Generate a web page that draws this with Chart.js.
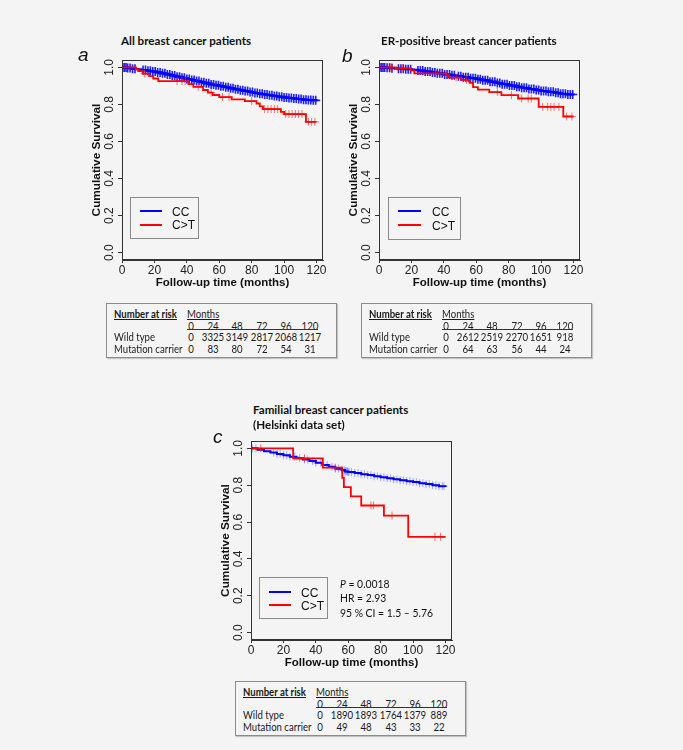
<!DOCTYPE html>
<html>
<head>
<meta charset="utf-8">
<script src="https://cdn.jsdelivr.net/npm/chart.js@4.4.1/dist/chart.umd.min.js"></script>
<style>
  body { margin: 0; background: #f4f4f4; width: 683px; height: 750px; position: relative; overflow: hidden; font-family: Lato, "Liberation Sans", sans-serif; color: #111; }
  canvas { position: absolute; }
  .t { position: absolute; white-space: nowrap; }
  .title { font-weight: bold; font-size: 11.6px; line-height: 14px; }
  .letter { font-family: "Liberation Sans", Arial, sans-serif; font-style: italic; font-size: 19px; line-height: 19px; }
  .lg { position: absolute; border: 1px solid #8a8a8a; box-sizing: border-box; }
  .lgtxt { font-family: "Liberation Sans", Arial, sans-serif; font-size: 12px; line-height: 14px; }
  .stat { font-size: 11.5px; line-height: 14px; transform: scaleX(0.9); transform-origin: left center; }
  .risk { position: absolute; border: 1px solid #8c8c8c; box-shadow: 1px 1px 1px #c4c4c4; box-sizing: border-box; font-size: 11.4px; color: #1a1a1a; }
  .risk .t { line-height: 13px; }
  .risk .l { transform: scaleX(0.84); transform-origin: left center; }
  .risk .c { transform: translateX(-50%) scaleX(0.85); }
</style>
</head>
<body>

<canvas id="chartA" width="275" height="245" style="left:60px;top:50px"></canvas>
<canvas id="chartB" width="275" height="245" style="left:317px;top:50px"></canvas>
<canvas id="chartC" width="275" height="244" style="left:189px;top:431px"></canvas>

<script>
// axis ticks
const X_TICKS = [0, 20, 40, 60, 80, 100, 120];
const Y_TICKS = [0, 0.2, 0.4, 0.6, 0.8, 1.0];

// ---- panel a : all breast cancer patients ----
const A_CC_TIME = [0, 3, 6, 9, 12, 15, 18, 21, 24, 27, 30, 33, 36, 39, 42, 45, 48, 51, 54, 57, 60, 63, 66, 69, 72, 75, 78, 81, 84, 87, 90, 93, 96, 99, 102, 105, 108, 111, 114, 117, 120];
const A_CC_SURV = [1, 0.997, 0.993, 0.99, 0.986, 0.982, 0.978, 0.973, 0.968, 0.962, 0.956, 0.95, 0.944, 0.938, 0.932, 0.926, 0.92, 0.914, 0.908, 0.903, 0.898, 0.893, 0.887, 0.882, 0.877, 0.872, 0.867, 0.862, 0.858, 0.854, 0.85, 0.846, 0.842, 0.838, 0.835, 0.832, 0.829, 0.826, 0.824, 0.822, 0.82];
const A_CC_CENS = [0.5, 1.5, 2.5, 3.5, 5, 6.5, 8, 13, 14.5, 16, 17.5, 19, 20.5, 22, 23.5, 25, 26.5, 28, 29.5, 31, 32.5, 34, 35.5, 37, 38.5, 40, 41.5, 43, 44.5, 46, 47.5, 49, 50.5, 52, 53.5, 55, 56.5, 58, 59.5, 61, 62.5, 64, 65.5, 67, 68.5, 70, 71.5, 73, 74.5, 76, 77.5, 79, 80.5, 82, 83.5, 85, 86.5, 88, 89.5, 91, 92.5, 94, 95.5, 97, 98.5, 100, 101.5, 103, 104.5, 106, 107.5, 109, 110.5, 112, 113.5, 115, 116.5, 118, 119.5];
const A_CT_TIME = [0, 8.6, 10, 12.7, 16.8, 19.3, 22.4, 41, 44, 50, 53, 56, 60, 67.6, 75.8, 83, 85, 87, 98, 100, 113.5, 120];
const A_CT_SURV = [1, 0.99, 0.98, 0.966, 0.953, 0.94, 0.926, 0.91, 0.895, 0.878, 0.864, 0.851, 0.84, 0.827, 0.818, 0.805, 0.79, 0.775, 0.76, 0.748, 0.706, 0.706];
const A_CT_CENS = [14, 34, 37, 39, 47, 55, 62, 66, 80, 88, 90, 92, 94, 96, 101, 103, 105, 107, 109, 111, 115, 117, 119];

// ---- panel b : ER-positive ----
const B_CC_TIME = [0, 4, 8, 12, 16, 20, 24, 28, 32, 36, 40, 44, 48, 52, 56, 60, 64, 68, 72, 76, 80, 84, 88, 92, 96, 100, 104, 108, 112, 116, 120];
const B_CC_SURV = [1, 0.998, 0.995, 0.993, 0.99, 0.987, 0.983, 0.978, 0.973, 0.968, 0.962, 0.957, 0.952, 0.947, 0.942, 0.936, 0.93, 0.923, 0.916, 0.909, 0.902, 0.896, 0.89, 0.884, 0.878, 0.873, 0.868, 0.863, 0.858, 0.854, 0.85];
const B_CC_CENS = [0.5, 1.5, 2.5, 3.5, 5, 6.5, 8, 12, 13.5, 15, 16.5, 18, 19.5, 24, 25.5, 27, 28.5, 30, 31.5, 33, 34.5, 36, 37.5, 39, 40.5, 42, 43.5, 45, 46.5, 49, 50.5, 52, 53.5, 55, 56.5, 58, 59.5, 61, 62.5, 64, 65.5, 67, 68.5, 70, 71.5, 73, 74.5, 76, 77.5, 79, 80.5, 82, 83.5, 85, 86.5, 88, 89.5, 91, 92.5, 94, 95.5, 97, 98.5, 100, 101.5, 103, 104.5, 106, 107.5, 109, 110.5, 112, 113.5, 115, 116.5, 118, 119.5];
const B_CT_TIME = [0, 10.4, 19.7, 21.8, 41.5, 43, 50.7, 55.9, 58, 61, 68, 75.5, 85.8, 98.5, 113.7, 120];
const B_CT_SURV = [1, 0.995, 0.984, 0.968, 0.958, 0.945, 0.933, 0.917, 0.894, 0.88, 0.867, 0.85, 0.832, 0.787, 0.735, 0.735];
const B_CT_CENS = [7, 8, 14.6, 35, 47.6, 54, 73, 81.7, 88, 92, 94, 101, 104, 106, 108, 111, 115.8, 119];

// ---- panel c : familial, Helsinki ----
const C_CC_TIME = [0, 4, 8, 12, 16, 20, 24, 28, 32, 36, 40, 44, 48, 52, 56, 58, 60, 64, 68, 72, 76, 80, 84, 88, 92, 96, 100, 104, 108, 112, 116, 120];
const C_CC_SURV = [1, 0.992, 0.985, 0.977, 0.97, 0.962, 0.955, 0.947, 0.94, 0.932, 0.922, 0.91, 0.9, 0.89, 0.882, 0.875, 0.872, 0.866, 0.86, 0.855, 0.849, 0.843, 0.838, 0.832, 0.827, 0.822, 0.817, 0.811, 0.806, 0.8, 0.795, 0.79];
const C_CC_CENS = [1, 3, 14, 16, 18, 20, 22, 24, 27, 30, 33, 35, 38, 40, 43, 47, 50, 52, 54, 56, 57.5, 58, 58.5, 59, 59.5, 60, 60.5, 62, 64, 66, 68, 70, 72, 74, 76, 78, 80, 82, 84, 86, 88, 90, 92, 94, 96, 98, 100, 102, 104, 106, 108, 110, 112, 114, 116, 118, 119];
const C_CT_TIME = [0, 26, 44.3, 56.3, 57.3, 61.6, 68, 82, 97, 120];
const C_CT_SURV = [1, 0.946, 0.895, 0.84, 0.79, 0.74, 0.69, 0.635, 0.52, 0.52];
const C_CT_CENS = [6, 33, 52, 74, 75.5, 87, 113.5, 117];

// number at risk tables
const RISK_MONTHS = [0, 24, 48, 72, 96, 120];
const A_RISK_WT = [0, 3325, 3149, 2817, 2068, 1217];
const A_RISK_MC = [0, 83, 80, 72, 54, 31];
const B_RISK_WT = [0, 2612, 2519, 2270, 1651, 918];
const B_RISK_MC = [0, 64, 63, 56, 44, 24];
const C_RISK_WT = [0, 1890, 1893, 1764, 1379, 889];
const C_RISK_MC = [0, 49, 48, 43, 33, 22];

const BLUE = '#0000ff';
const RED = '#ff0000';
const AXIS_FONT = "'Liberation Sans', Arial, sans-serif";

// value of a step curve at time t
function survAt(times, surv, t) {
    let s = surv[0];
    for (let i = 0; i < times.length; i++) {
        if (times[i] <= t) s = surv[i];
    }
    return s;
}

function curve(times, surv) {
    return times.map((t, i) => ({ x: t, y: surv[i] }));
}

function censors(times, surv, cens) {
    return cens.map(c => ({ x: c, y: survAt(times, surv, c) }));
}

// box around the plot region, like R's bty="o"
const boxPlugin = {
    id: 'plotBox',
    afterDraw(chart) {
        const { ctx, chartArea: a } = chart;
        ctx.save();
        ctx.strokeStyle = '#333';
        ctx.lineWidth = 1;
        ctx.strokeRect(Math.round(a.left) + 0.5, Math.round(a.top) + 0.5,
            Math.round(a.right - a.left) - 1, Math.round(a.bottom - a.top) - 1);
        ctx.restore();
    }
};

function makeKM(id, cc, ct, ccCross) {
    new Chart(document.getElementById(id), {
        type: 'scatter',
        data: {
            datasets: [
                {
                    data: curve(ct.time, ct.surv), showLine: true, stepped: 'before',
                    borderColor: RED, borderWidth: 1.8, pointRadius: 0, order: 1
                },
                {
                    data: censors(ct.time, ct.surv, ct.cens), showLine: false,
                    pointStyle: 'cross', pointRadius: 4, borderWidth: 1,
                    borderColor: 'rgba(255,40,40,0.65)', order: 2
                },
                {
                    data: curve(cc.time, cc.surv), showLine: true, stepped: 'before',
                    borderColor: BLUE, borderWidth: 2, pointRadius: 0, order: 3
                },
                {
                    data: censors(cc.time, cc.surv, cc.cens), showLine: false,
                    pointStyle: 'cross', pointRadius: ccCross.r, borderWidth: ccCross.w,
                    borderColor: ccCross.color, order: 4
                }
            ]
        },
        options: {
            responsive: false,
            animation: false,
            devicePixelRatio: 1,
            layout: { padding: { top: 10, right: 12, left: 0, bottom: 0 } },
            plugins: { legend: { display: false }, tooltip: { enabled: false } },
            scales: {
                x: {
                    type: 'linear', min: 0, max: 124,
                    afterBuildTicks: s => { s.ticks = X_TICKS.map(v => ({ value: v })); },
                    afterFit: s => { s.height = 35; },
                    grid: { drawOnChartArea: false, drawTicks: true, tickLength: 3, color: '#333' },
                    border: { color: '#333' },
                    ticks: { font: { family: AXIS_FONT, size: 12 }, color: '#222', padding: 0, maxRotation: 0, autoSkip: false },
                    title: {
                        display: true, text: 'Follow-up time (months)', color: '#111',
                        font: { family: AXIS_FONT, size: 11.5, weight: 'bold' },
                        padding: { top: 0, bottom: 5 }
                    }
                },
                y: {
                    type: 'linear', min: -0.04, max: 1.04,
                    afterBuildTicks: s => { s.ticks = Y_TICKS.map(v => ({ value: v })); },
                    afterFit: s => { s.width = 62; },
                    grid: { drawOnChartArea: false, drawTicks: true, tickLength: 4, color: '#333' },
                    border: { color: '#333' },
                    ticks: {
                        font: { family: AXIS_FONT, size: 12 }, color: '#222',
                        minRotation: 90, maxRotation: 90, crossAlign: 'center', padding: 0,
                        callback: v => v.toFixed(1)
                    },
                    title: {
                        display: true, text: 'Cumulative Survival', color: '#111',
                        font: { family: AXIS_FONT, size: 11.8, weight: 'bold' },
                        padding: { top: 30, bottom: 0 }
                    }
                }
            }
        },
        plugins: [boxPlugin]
    });
}

const DENSE = { color: 'rgba(20,20,250,0.95)', w: 1.6, r: 4.5 };
const SPARSE = { color: 'rgba(90,90,255,0.5)', w: 1, r: 4 };
makeKM('chartA',
    { time: A_CC_TIME, surv: A_CC_SURV, cens: A_CC_CENS },
    { time: A_CT_TIME, surv: A_CT_SURV, cens: A_CT_CENS }, DENSE);
makeKM('chartB',
    { time: B_CC_TIME, surv: B_CC_SURV, cens: B_CC_CENS },
    { time: B_CT_TIME, surv: B_CT_SURV, cens: B_CT_CENS }, DENSE);
makeKM('chartC',
    { time: C_CC_TIME, surv: C_CC_SURV, cens: C_CC_CENS },
    { time: C_CT_TIME, surv: C_CT_SURV, cens: C_CT_CENS }, SPARSE);

// ---- html text: titles, letters, legends, tables ----
function txt(parent, s, x, y, cls, extra) {
    const d = document.createElement('div');
    d.className = 't ' + (cls || '');
    d.style.left = x + 'px';
    d.style.top = y + 'px';
    if (extra) d.style.cssText += extra;
    d.innerHTML = s;
    parent.appendChild(d);
    return d;
}

const body = document.body;
txt(body, 'All breast cancer patients', 121, 34, 'title');
txt(body, 'ER-positive breast cancer patients', 381, 34, 'title');
txt(body, 'Familial breast cancer patients', 253, 403, 'title');
txt(body, '(Helsinki data set)', 253, 418, 'title');
txt(body, 'a', 78, 45, 'letter');
txt(body, 'b', 342, 46, 'letter');
txt(body, 'c', 213, 427, 'letter');

function legend(left, top, w, h, lineX, lineW, textX, y1, y2) {
    const box = document.createElement('div');
    box.className = 'lg';
    box.style.cssText = `left:${left}px;top:${top}px;width:${w}px;height:${h}px`;
    body.appendChild(box);
    [[y1, BLUE, 'CC'], [y2, RED, 'C&gt;T']].forEach(([y, col, lab]) => {
        const ln = document.createElement('div');
        ln.style.cssText = `position:absolute;left:${lineX}px;top:${y - 1}px;width:${lineW}px;height:2px;background:${col}`;
        body.appendChild(ln);
        txt(body, lab, textX, y - 6.5, 'lgtxt');
    });
}
legend(130, 197, 69, 42, 140, 22, 172, 211, 224.5);
legend(388, 197, 73, 43, 398, 23, 432, 211, 225);
legend(259, 577, 69, 42, 269, 22, 301, 592, 605);

txt(body, '<i>P</i> = 0.0018', 340, 577, 'stat');
txt(body, 'HR = 2.93', 340, 591, 'stat');
txt(body, '95 % CI = 1.5 \u2013 5.76', 340, 606, 'stat');

const COL_X = [84, 106, 130, 155, 179, 203];
function riskTable(left, top, wt, mc) {
    const box = document.createElement('div');
    box.className = 'risk';
    box.style.cssText = `left:${left}px;top:${top}px;width:231px;height:55px`;
    body.appendChild(box);
    txt(box, 'Number at risk', 7, 2.5, 'l', 'font-weight:bold;text-decoration:underline');
    txt(box, 'Months', 80, 2.5, 'l', 'text-decoration:underline');
    const rows = [[RISK_MONTHS, 14.5], [wt, 26], [mc, 37.5]];
    rows.forEach(([vals, y]) => {
        vals.forEach((v, i) => {
            txt(box, String(v), COL_X[i], y, 'c');
        });
    });
    const ul = document.createElement('div');
    ul.style.cssText = 'position:absolute;left:80px;top:24.5px;width:131px;height:0;border-top:1px solid #333';
    box.appendChild(ul);
    txt(box, 'Wild type', 7, 26, 'l');
    txt(box, 'Mutation carrier', 7, 37.5, 'l');
}
riskTable(106, 303, A_RISK_WT, A_RISK_MC);
riskTable(361, 303, B_RISK_WT, B_RISK_MC);
riskTable(235, 681, C_RISK_WT, C_RISK_MC);
</script>
</body>
</html>
